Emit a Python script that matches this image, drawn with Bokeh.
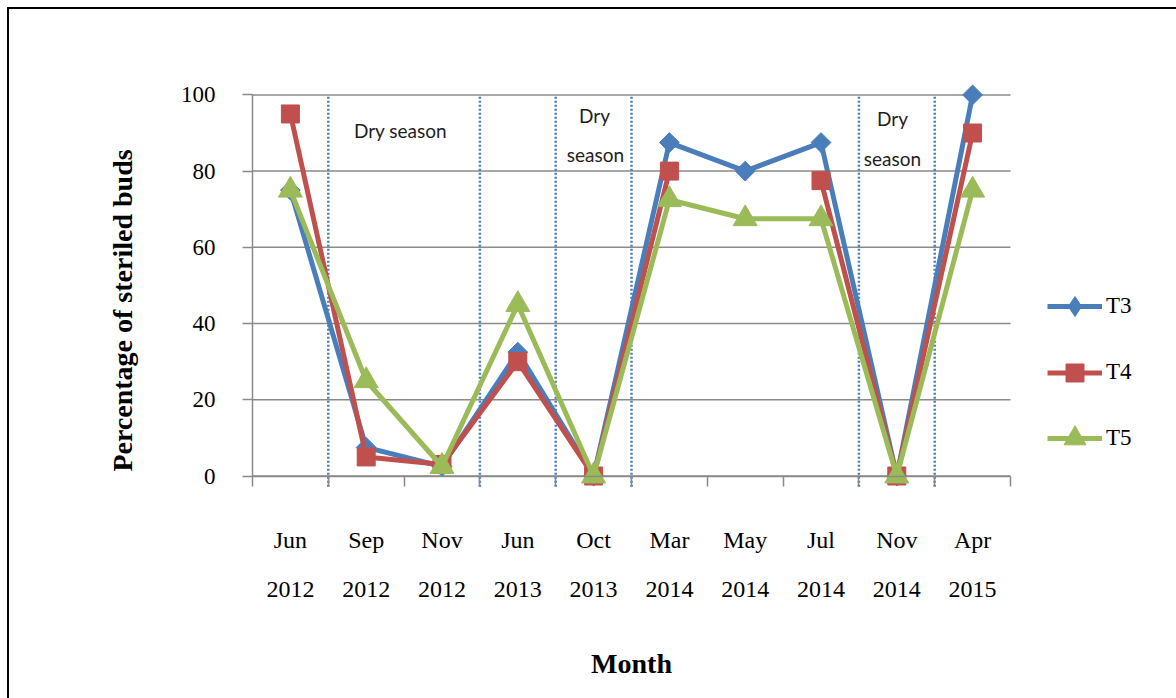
import numpy as np
from bokeh.plotting import figure
from bokeh.models import (Range1d, FixedTicker, Legend, LegendItem,
                          ColumnDataSource)
from bokeh.core.properties import value
from bokeh.embed import file_html
from bokeh.resources import INLINE

# ---- data -------------------------------------------------------------
months = ["Jun", "Sep", "Nov", "Jun", "Oct", "Mar", "May", "Jul", "Nov", "Apr"]
years = ["2012", "2012", "2012", "2013", "2013", "2014", "2014", "2014", "2014", "2015"]
t3 = [75, 7.5, 2.5, 32.5, 0, 87.5, 80, 87.5, 0, 100]
t4 = [95, 5, 3, 30, 0, 80, np.nan, 77.5, 0, 90]
t5 = [75, 25, 2.5, 45, 0, 72.5, 67.5, 67.5, 0, 75]
season_breaks = [1, 3, 4, 5, 8, 9]
y_ticks = [0, 20, 40, 60, 80, 100]
season_notes = ["Dry season", "Dry", "season", "Dry", "season"]

# ---- styling / geometry ---------------------------------------------------
BLUE, RED, GREEN = "#4a7ebb", "#c0504d", "#9bbb59"
GRAY = "#8a8a8a"
SERIF = "Liberation Serif"
NOTE_FONT = "Lato"

W, H = 1176, 698
LEFT_PANEL, BOTTOM_PANEL = 90, 20
PX_X = 75.8          # pixels per category
PX_Y = 3.811         # pixels per percentage point
X0_PX, Y0_PX = 252, 475.5   # where (0, 0) sits on the page

n = len(months)
x = np.arange(n) + 0.5
frame_w = W - LEFT_PANEL
frame_h = H - BOTTOM_PANEL
x_start = -(X0_PX - LEFT_PANEL) / PX_X
y_top = Y0_PX / PX_Y
y_bottom = -(frame_h - Y0_PX) / PX_Y


def dx(px):
    return (px - X0_PX) / PX_X


def dy(py):
    return (Y0_PX - py) / PX_Y


p = figure(width=W, height=H,
           x_range=Range1d(x_start, x_start + frame_w / PX_X),
           y_range=Range1d(y_bottom, y_top),
           output_backend="svg", toolbar_location=None,
           min_border_left=LEFT_PANEL, min_border_right=0,
           min_border_top=0, min_border_bottom=BOTTOM_PANEL)
p.outline_line_color = None
p.background_fill_color = None
p.border_fill_color = None
# outer chart-area border: top and left rules
p.styles = {
    "background": ("linear-gradient(#000, #000) 7px 7px / 1400px 2px no-repeat, "
                   "linear-gradient(#000, #000) 7px 7px / 2px 1000px no-repeat, #fff"),
}
p.grid.visible = False

# horizontal gridlines across the category span
p.segment(x0=0, y0=y_ticks, x1=n, y1=y_ticks, line_color=GRAY, line_width=1.5)

# y axis
p.yaxis.fixed_location = 0
p.yaxis.ticker = FixedTicker(ticks=y_ticks)
p.yaxis.bounds = (0, 100)
p.yaxis.axis_line_color = GRAY
p.yaxis.axis_line_width = 1.5
p.yaxis.major_tick_line_color = GRAY
p.yaxis.major_tick_line_width = 1.5
p.yaxis.major_tick_out = 10
p.yaxis.major_tick_in = 0
p.yaxis.minor_tick_line_color = None
p.yaxis.major_label_standoff = 27
p.yaxis.major_label_text_font = SERIF
p.yaxis.major_label_text_font_size = "23px"
p.yaxis.major_label_text_color = "black"

# x axis: category boundary ticks at y = 0 (category names are drawn below)
boundaries = list(range(n + 1))
p.xaxis.fixed_location = 0
p.xaxis.ticker = FixedTicker(ticks=boundaries)
p.xaxis.bounds = (0, n)
p.xaxis.axis_line_color = GRAY
p.xaxis.axis_line_width = 1.5
p.xaxis.major_tick_line_color = GRAY
p.xaxis.major_tick_line_width = 1.5
p.xaxis.major_tick_out = 10
p.xaxis.major_tick_in = 0
p.xaxis.minor_tick_line_color = None
p.xaxis.major_label_standoff = 0
p.xaxis.major_label_overrides = {b: "" for b in boundaries}

# dotted season separators
p.segment(x0=season_breaks, y0=-2.8, x1=season_breaks, y1=100,
          line_color=BLUE, line_width=2.5, line_dash="2 2")

# series
l3 = p.line(x, t3, line_color=BLUE, line_width=5)
s3 = p.scatter(x, t3, marker="square", angle=np.pi / 4, size=14,
               fill_color=BLUE, line_color=BLUE)
l4 = p.line(x, t4, line_color=RED, line_width=5)
s4 = p.scatter(x, t4, marker="square", size=18,
               fill_color=RED, line_color=RED)
l5 = p.line(x, t5, line_color=GREEN, line_width=5)
s5 = p.scatter(x, t5, marker="triangle", size=24,
               fill_color=GREEN, line_color=GREEN)

# legend key for T3 uses an upright diamond (legend glyphs are not rotated)
k3 = p.scatter(x=[np.nan], y=[np.nan], marker="diamond", size=20,
               fill_color=BLUE, line_color=BLUE)

# legend entries, one box per series so each marker keeps its own size
for label, rends, gh, cy in [("T3", [l3, k3], 50, 306),
                             ("T4", [l4, s4], 45, 372),
                             ("T5", [l5, s5], 60, 438)]:
    leg = Legend(items=[LegendItem(label=label, renderers=rends)],
                 location=(1047 - LEFT_PANEL, frame_h - (cy + gh / 2)),
                 glyph_width=55, glyph_height=gh,
                 padding=0, margin=0, spacing=0, label_standoff=4,
                 border_line_color=None, background_fill_alpha=0,
                 label_text_font=SERIF, label_text_font_size="23px",
                 label_text_color="black")
    p.add_layout(leg)

# category labels: month on the first row, year on the second
cats = ColumnDataSource(dict(x=x, month=months, year=years,
                             ym=[dy(539)] * n, yy=[dy(589)] * n))
p.text(x="x", y="ym", text="month", source=cats, text_align="center",
       text_baseline="middle", text_font=value(SERIF),
       text_font_size="24px", text_color="black")
p.text(x="x", y="yy", text="year", source=cats, text_align="center",
       text_baseline="middle", text_font=value(SERIF),
       text_font_size="24px", text_color="black")

# axis titles
p.text(x=[dx(631)], y=[dy(663)], text=["Month"], text_align="center",
       text_baseline="middle", text_font=value(SERIF),
       text_font_size="28px", text_font_style="bold", text_color="black")
p.text(x=[dx(122)], y=[dy(310)], text=["Percentage of steriled buds"],
       angle=np.pi / 2, text_align="center", text_baseline="middle",
       text_font=value(SERIF), text_font_size="28px",
       text_font_style="bold", text_color="black")

# season notes
note_px = [(400, 130), (594, 115), (595, 154), (892, 118), (892, 158)]
p.text(x=[dx(a) for a, _ in note_px], y=[dy(b) for _, b in note_px],
       text=season_notes, text_align="center", text_baseline="middle",
       text_font=value(NOTE_FONT), text_font_size="19px",
       text_color="#1e1e1e")

open("out.html", "w").write(file_html(p, INLINE))
